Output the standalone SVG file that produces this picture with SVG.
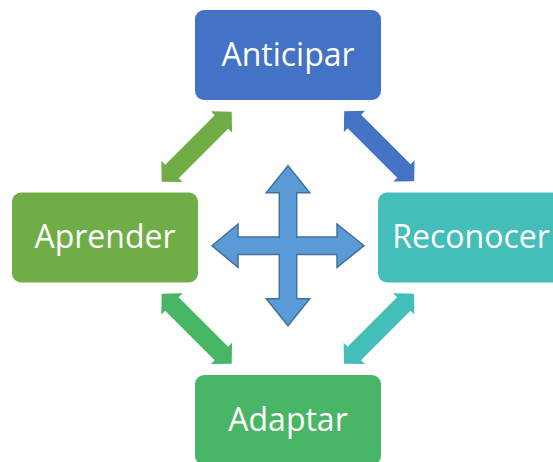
<svg xmlns="http://www.w3.org/2000/svg" width="553" height="462" viewBox="0 0 553 462">
  <defs>
    <style>
      .lbl { font-family: "Open Sans", "Liberation Sans", sans-serif; font-size: 32px; fill: #ffffff; text-anchor: middle; }
      .quad { fill: #5B9BD5; stroke: #41719C; stroke-width: 1.5; stroke-linejoin: miter; }
    </style>
    <polygon id="dbl" points="-49.5,0 -35,-15 -35,-9.5 35,-9.5 35,-15 49.5,0 35,15 35,9.5 -35,9.5 -35,15"/>
  </defs>
  <rect width="553" height="462" fill="#ffffff"/>

  <g id="connectors">
    <use href="#dbl" fill="#70AD47" transform="translate(196.7,146.7) rotate(-45)"/>
    <use href="#dbl" fill="#4472C4" transform="translate(379.2,146.2) rotate(45)"/>
    <use href="#dbl" fill="#44BEB8" transform="translate(379,328.7) rotate(-45)"/>
    <use href="#dbl" fill="#48B666" transform="translate(196.7,328.7) rotate(45)"/>
    <polygon class="quad" points="288,165.7 309.7,192.7 296.7,192.7 296.7,237 337,237 337,224 364,245.7 337,267.4 337,254.4 296.7,254.4 296.7,298.7 309.7,298.7 288,325.7 266.3,298.7 279.3,298.7 279.3,254.4 238,254.4 238,267.4 212,245.7 238,224 238,237 279.3,237 279.3,192.7 266.3,192.7"/>
  </g>

  <g id="anticipar">
    <rect x="195" y="10" width="186" height="90" rx="9" fill="#4472C4"/>
    <text class="lbl" x="288" y="65.5">Anticipar</text>
  </g>
  <g id="aprender">
    <rect x="12" y="192.5" width="186" height="90" rx="9" fill="#70AD47"/>
    <text class="lbl" x="105" y="248">Aprender</text>
  </g>
  <g id="reconocer">
    <rect x="378" y="192.5" width="186" height="90" rx="9" fill="#44BEB8"/>
    <text class="lbl" x="471" y="248">Reconocer</text>
  </g>
  <g id="adaptar">
    <rect x="195" y="375" width="186" height="90" rx="9" fill="#48B666"/>
    <text class="lbl" x="288" y="430.5">Adaptar</text>
  </g>
</svg>
